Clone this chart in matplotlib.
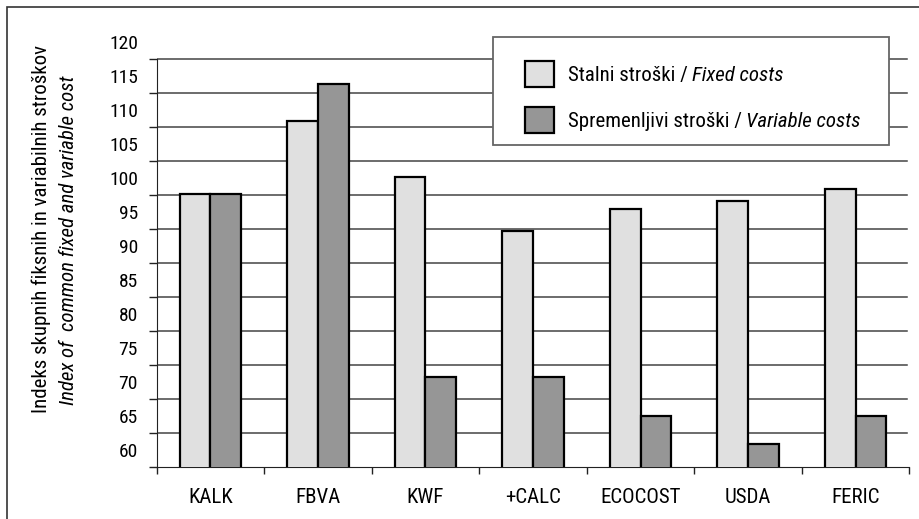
import matplotlib
matplotlib.use("Agg")
import matplotlib.pyplot as plt
from matplotlib.patches import Rectangle, Patch
import numpy as np

plt.rcParams['font.family'] = ['Roboto Condensed', 'Liberation Sans', 'DejaVu Sans']

# podatki
metode = ['KALK', 'FBVA', 'KWF', '+CALC', 'ECOCOST', 'USDA', 'FERIC']
stalni = [97.7, 108.4, 100.2, 92.2, 95.4, 96.6, 98.4]
spremenljivi = [97.7, 113.9, 70.7, 70.7, 65.0, 60.9, 65.0]
y_oznake = [60, 65, 70, 75, 80, 85, 90, 95, 100, 105, 110, 115, 120]
legenda = ['Stalni stroški / ', 'Spremenljivi stroški / ']
legenda_it = ['Fixed costs', 'Variable costs']

W, H = 920, 519
fig = plt.figure(figsize=(W / 100, H / 100), dpi=100)
ax = fig.add_axes([156.7 / W, 1 - 466.7 / H, 752.6 / W, (466.7 - 35.3) / H])

x = np.arange(len(metode))
sirina = 0.284
ax.bar(x - sirina / 2, stalni, sirina, color='#e0e0e0', edgecolor='black', linewidth=1.6, zorder=3)
ax.bar(x + sirina / 2, spremenljivi, sirina, color='#969696', edgecolor='black', linewidth=1.6, zorder=3)

ax.set_xlim(-0.5, len(metode) - 0.5)
ax.set_ylim(57.5, 121)

# mreža in oznake (oznake so med črtami mreže)
mreza = np.arange(57.5, 118, 5)
ax.set_yticks(mreza)
ax.set_yticklabels([])
ax.set_yticks(y_oznake, minor=True)
ax.set_yticklabels([str(v) for v in y_oznake], minor=True)
ax.tick_params(axis='y', which='major', length=6, width=1, color='#222222', direction='out')
ax.tick_params(axis='y', which='minor', length=0, pad=13.5, labelsize=14)
for g in mreza[1:]:
    ax.axhline(g, xmin=0, xmax=0.9965, color='#444444', linewidth=1.1, zorder=1)

ax.set_xticks(np.arange(-0.5, len(metode)))
ax.set_xticklabels([])
ax.set_xticks(x, minor=True)
ax.set_xticklabels(metode, minor=True)
ax.tick_params(axis='x', which='major', length=5, width=1, color='#222222', direction='out')
ax.tick_params(axis='x', which='minor', length=0, pad=15, labelsize=15)

for s in ['top', 'right']:
    ax.spines[s].set_visible(False)
ax.spines['left'].set_bounds(57.5, 117.5)
ax.spines['left'].set_color('#222222')
ax.spines['bottom'].set_color('#222222')

# os y - dve vrstici
fig.text(47 / W, 1 - 229 / H, 'Indeks skupnih fiksnih in variabilnih stroškov', rotation=90,
         rotation_mode='anchor', ha='center', va='baseline', fontsize=15)
fig.text(74 / W, 1 - 240.5 / H, 'Index of  common fixed and variable cost', rotation=90,
         rotation_mode='anchor', ha='center', va='baseline', fontsize=15, style='italic')

# legenda
fig.add_artist(Rectangle((493 / W, 1 - 145 / H), 396 / W, 108 / H, transform=fig.transFigure,
                         facecolor='white', edgecolor='#666666', linewidth=1.3, zorder=5))
rocaji = [Patch(facecolor='#e0e0e0', edgecolor='black', linewidth=1.6),
          Patch(facecolor='#969696', edgecolor='black', linewidth=1.6)]
leg = fig.legend(rocaji, legenda,
                 loc='upper left', bbox_to_anchor=(525 / W, 1 - 61 / H), frameon=False,
                 fontsize=15, handlelength=1.4, handleheight=1.55, handletextpad=0.65,
                 labelspacing=0.95, borderpad=0, borderaxespad=0)
leg.set_zorder(6)

# ležeči del napisov v legendi
fig.canvas.draw()
for t, it in zip(leg.get_texts(), legenda_it):
    bb = t.get_window_extent()
    xt, yt = t.get_transform().transform(t.get_position())
    fig.text(bb.x1 / W, yt / H, it, fontsize=15, style='italic', ha='left',
             va=t.get_va(), transform=fig.transFigure, zorder=7)

# okvir slike
fig.add_artist(Rectangle((7 / W, -0.1), 1.2, 1.1 - 7.3 / H, transform=fig.transFigure,
                         facecolor='none', edgecolor='#333333', linewidth=1.2))

fig.savefig('out.png', dpi=100)
